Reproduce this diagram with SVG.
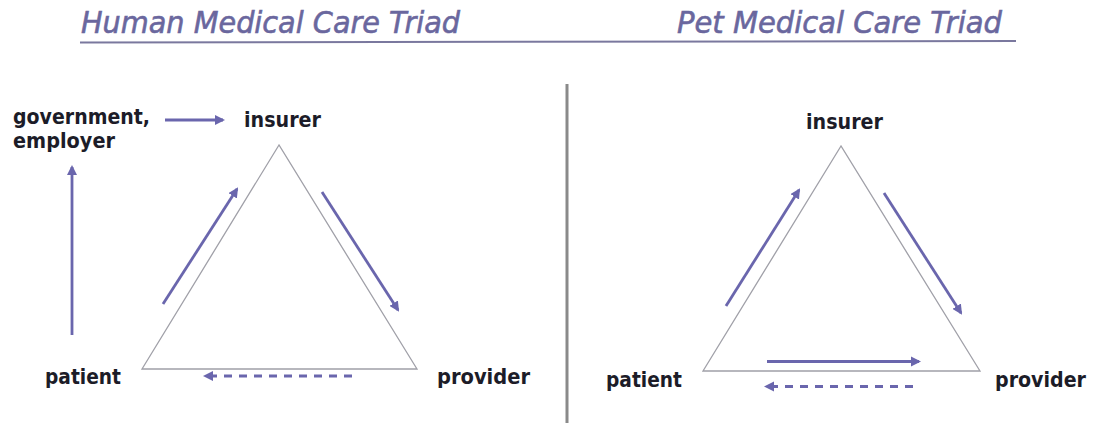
<svg xmlns="http://www.w3.org/2000/svg" width="1096" height="423" viewBox="0 0 1096 423">
<style>
.title{font-family:"DejaVu Sans",Verdana,sans-serif;font-style:italic;font-size:30px;fill:#6a679e;stroke:#6a679e;stroke-width:0.6}
.lbl{font-family:"DejaVu Sans",Verdana,sans-serif;font-weight:bold;font-size:22px;fill:#1c1c28}
.lbl2{font-size:20.5px}
.tri{fill:none;stroke:#a0a0a8;stroke-width:1.3}
.arr{fill:none;stroke:#6a66ad;stroke-width:2.8;marker-end:url(#ah)}
.dash{stroke-dasharray:8 7}
</style>
<defs>
<marker id="ah" viewBox="0 0 10 10" refX="8" refY="5" markerWidth="3.6" markerHeight="3.6" orient="auto" markerUnits="strokeWidth">
<path d="M0,0 L10,5 L0,10 z" fill="#6a66ad"/>
</marker>
</defs>
<rect width="1096" height="423" fill="#fff"/>
<g id="titles">
<text class="title" x="81" y="33" textLength="379" lengthAdjust="spacingAndGlyphs">Human Medical Care Triad</text>
<text class="title" x="677" y="33" textLength="325" lengthAdjust="spacingAndGlyphs">Pet Medical Care Triad</text>
<line x1="80" y1="42.5" x2="1016" y2="41" stroke="#7a789e" stroke-width="2"/>
</g>
<line id="divider" x1="567" y1="84" x2="567" y2="423" stroke="#8a8a8a" stroke-width="3"/>
<g id="human-triangle"><polygon class="tri" points="279,145 142,369 417,369"/></g>
<g id="pet-triangle"><polygon class="tri" points="841,146 703,371 980,371"/></g>
<g id="h-government"><text class="lbl lbl2" x="13" y="124" textLength="137" lengthAdjust="spacingAndGlyphs">government,</text><text class="lbl lbl2" x="13" y="148" textLength="102" lengthAdjust="spacingAndGlyphs">employer</text></g>
<g id="h-insurer"><text class="lbl" x="244" y="127" textLength="77" lengthAdjust="spacingAndGlyphs">insurer</text></g>
<g id="h-patient"><text class="lbl" x="45" y="384" textLength="76" lengthAdjust="spacingAndGlyphs">patient</text></g>
<g id="h-provider"><text class="lbl" x="437" y="384" textLength="93" lengthAdjust="spacingAndGlyphs">provider</text></g>
<g id="p-insurer"><text class="lbl" x="806" y="129" textLength="77" lengthAdjust="spacingAndGlyphs">insurer</text></g>
<g id="p-patient"><text class="lbl" x="606" y="387" textLength="76" lengthAdjust="spacingAndGlyphs">patient</text></g>
<g id="p-provider"><text class="lbl lbl2" x="995" y="387" textLength="91" lengthAdjust="spacingAndGlyphs">provider</text></g>
<g id="connectors">
<line class="arr" x1="165" y1="120" x2="223" y2="120"/>
<line class="arr" x1="72" y1="335" x2="72" y2="167"/>
<line class="arr" x1="163" y1="304" x2="237" y2="189"/>
<line class="arr" x1="322" y1="192" x2="398" y2="310"/>
<line class="arr dash" x1="352" y1="376" x2="205" y2="376"/>
<line class="arr" x1="726" y1="306" x2="799" y2="190"/>
<line class="arr" x1="884" y1="193" x2="961" y2="313"/>
<line class="arr" x1="767" y1="361.5" x2="919" y2="361.5"/>
<line class="arr dash" x1="913" y1="386.5" x2="766" y2="386.5"/>
</g>
</svg>
